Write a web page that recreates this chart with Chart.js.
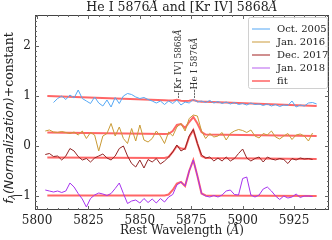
<!DOCTYPE html>
<html lang="en">
<head>
    <meta charset="UTF-8">
    <title>He I 5876 and [Kr IV] 5868</title>
    <script src="https://cdn.jsdelivr.net/npm/chart.js"></script>
    <style>
        html, body { margin: 0; padding: 0; background: #ffffff; }
        .chart-box { width: 332px; height: 240px; }
    </style>
</head>
<body>
    <div class="chart-box">
        <canvas id="specChart" width="332" height="240"></canvas>
    </div>

    <script>
        // rest wavelength grid of the spectra (Angstrom)
        const wave = [5804, 5806, 5808, 5810, 5812, 5814, 5816, 5818, 5820, 5822,
            5824, 5826, 5828, 5830, 5832, 5834, 5836, 5838, 5840, 5842,
            5844, 5846, 5848, 5850, 5852, 5854, 5856, 5858, 5860, 5862,
            5864, 5866, 5868, 5870, 5872, 5874, 5876, 5878, 5880, 5882,
            5884, 5886, 5888, 5890, 5892, 5894, 5896, 5898, 5900, 5902,
            5904, 5906, 5908, 5910, 5912, 5914, 5916, 5918, 5920, 5922,
            5924, 5926, 5928, 5930, 5932, 5934, 5936, 5938];

        const oct2005 = [null, null, 0.87, 0.95, 1.0, 0.93, 1.02, 0.96, 1.12, 0.95,
            0.9, 0.85, 0.98, 0.86, 0.8, 0.92, 0.78, 0.97, 0.85, 1.0,
            1.05, 1.03, 0.98, 0.95, 0.97, 0.93, 0.9, 0.86, 0.9, 0.83,
            0.9, 0.85, 0.92, 0.82, 0.88, 0.86, 0.93, 0.88, 0.9, 0.87,
            0.91, 0.86, 0.89, 0.85, 0.88, 0.84, 0.87, 0.83, 0.85, 0.82,
            0.86, 0.83, 0.84, 0.81, 0.84, 0.8, 0.83, 0.79, 0.82, 0.81,
            0.9, 0.78, 0.82, 0.8, 0.86, 0.87, 0.84, null];

        const jan2016 = [0.30, 0.32, 0.28, 0.27, 0.29, 0.27, 0.25, 0.28, 0.22, 0.3,
            0.15, 0.27, 0.22, -0.1, 0.2, 0.25, 0.45, 0.2, 0.38, 0.15,
            0.05, 0.35, 0.1, 0.42, 0.12, 0.08, 0.15, 0.3, 0.2, 0.05,
            0.28, 0.2, 0.38, 0.45, 0.3, 0.55, 0.62, 0.6, 0.3, 0.15,
            0.25, 0.18, 0.2, 0.27, 0.12, 0.25, 0.3, 0.33, 0.31, 0.27,
            0.32, 0.2, 0.16, 0.25, 0.22, 0.3, 0.18, 0.14, 0.2, 0.25,
            0.13, 0.22, 0.24, 0.2, 0.1, 0.26, null, null];

        const dec2017 = [-0.17, -0.15, -0.21, -0.2, -0.28, -0.2, -0.05, -0.1, -0.21, -0.28,
            -0.25, -0.32, -0.24, -0.2, -0.16, -0.24, -0.28, -0.2, -0.05, 0.0,
            -0.2, -0.35, -0.42, -0.28, -0.44, -0.27, -0.32, -0.25, -0.36, -0.3,
            -0.22, -0.12, 0.02, -0.1, -0.05, 0.2, 0.33, 0.05, -0.18, -0.24,
            -0.22, -0.3, -0.24, -0.3, -0.22, -0.3, -0.25, -0.15, -0.06, -0.24,
            -0.3, -0.25, -0.22, -0.32, -0.22, -0.26, -0.28, -0.25, -0.27, -0.35,
            -0.25, -0.28, -0.24, -0.26, -0.25, -0.27, null, null];

        const jan2018 = [-0.88, -0.9, -0.92, -0.9, -0.93, -0.9, -0.74, -0.82, -0.95, -1.06,
            -1.22, -1.05, -0.98, -0.94, -0.96, -0.99, -0.95, -0.85, -0.74, -0.95,
            -1.15, -1.1, -1.08, -1.14, -1.05, -1.13, -1.06, -1.14, -1.05, -1.12,
            -1.02, -0.97, -0.78, -0.72, -0.8, -0.5, -0.28, -0.6, -0.95, -1.0,
            -1.02, -0.99, -1.02, -0.98, -0.9, -0.88, -0.97, -0.98, -0.65, -0.62,
            -0.98, -1.02, -0.98, -0.86, -0.82, -0.9, -1.0, -1.07, -1.0, -1.04,
            -1.02, -0.96, -1.03, -1.0, -1.0, -1.01, null, null];

        // fitted profiles (continuum + two lines)
        const fitWave = [5805, 5862, 5864, 5866, 5868, 5870, 5872, 5874, 5876, 5878, 5880, 5882, 5936];
        const fitOct2005 = [1.0, 0.913, 0.91, 0.91, 0.925, 0.905, 0.898, 0.905, 0.92, 0.895, 0.886, 0.883, 0.8];
        const fitJan2016 = [0.27, 0.24, 0.245, 0.3, 0.42, 0.44, 0.36, 0.48, 0.58, 0.45, 0.28, 0.23, 0.2];
        const fitDec2017 = [-0.23, -0.24, -0.22, -0.12, 0.0, -0.05, -0.06, 0.18, 0.32, 0.05, -0.2, -0.24, -0.26];
        const fitJan2018 = [-0.99, -0.99, -0.97, -0.88, -0.75, -0.72, -0.8, -0.5, -0.28, -0.6, -0.95, -0.99, -1.0];

        const epochs = ['Oct. 2005', 'Jan. 2016', 'Dec. 2017', 'Jan. 2018'];
        const xTicks = [5800, 5825, 5850, 5875, 5900, 5925];
        const yTicks = [-1, 0, 1, 2];

        const serif = '"DejaVu Serif", serif';
        const sans = '"DejaVu Sans", sans-serif';

        function pts(xs, ys) {
            return xs.map((x, i) => ({ x: x, y: ys[i] }));
        }

        const specColors = ['#55a8f5', '#c99a35', '#922424', '#a633ee'];
        const legendColors = ['#8cc4f8', '#dcbc7c', '#c06a6a', '#cf94f4', '#ff8a8a'];
        const fitColor = 'rgba(255, 20, 20, 0.65)';

        const datasets = [];
        [oct2005, jan2016, dec2017, jan2018].forEach((s, i) => {
            datasets.push({
                label: epochs[i],
                data: pts(wave, s),
                borderColor: specColors[i],
                borderWidth: 1,
                pointRadius: 0,
                spanGaps: false
            });
        });
        [fitOct2005, fitJan2016, fitDec2017, fitJan2018].forEach((s, i) => {
            datasets.push({
                label: i === 0 ? 'fit' : '',
                data: pts(fitWave, s),
                borderColor: fitColor,
                borderWidth: 2,
                pointRadius: 0
            });
        });

        // spines, inward ticks, labels, legend and line markers
        const decorPlugin = {
            id: 'decor',
            afterDraw(chart) {
                const ctx = chart.ctx;
                const a = chart.chartArea;
                const xs = chart.scales.x, ys = chart.scales.y;
                ctx.save();

                ctx.strokeStyle = '#444';
                ctx.lineWidth = 1;
                ctx.strokeRect(a.left + 0.5, a.top + 0.5, a.right - a.left - 1, a.bottom - a.top - 1);

                ctx.strokeStyle = '#666';
                ctx.beginPath();
                for (let v = 5800; v <= 5940; v += 5) {
                    const px = Math.round(xs.getPixelForValue(v)) + 0.5;
                    const len = (v % 25 === 0) ? 4 : 2;
                    ctx.moveTo(px, a.bottom); ctx.lineTo(px, a.bottom - len);
                    ctx.moveTo(px, a.top); ctx.lineTo(px, a.top + len);
                }
                for (let k = -12; k <= 26; k++) {
                    const v = k / 10;
                    const py = Math.round(ys.getPixelForValue(v)) + 0.5;
                    const len = (k % 10 === 0) ? 4 : 2;
                    ctx.moveTo(a.left, py); ctx.lineTo(a.left + len, py);
                    ctx.moveTo(a.right, py); ctx.lineTo(a.right - len, py);
                }
                ctx.stroke();

                // title
                const cx = (a.left + a.right) / 2;
                drawRuns(ctx, [['He I 5876', '12.5px ' + serif], ['Å', 'italic 12.5px ' + serif],
                    [' and [Kr IV] 5868', '12.5px ' + serif], ['Å', 'italic 12.5px ' + serif]], cx, 8);
                // x axis label
                drawRuns(ctx, [['Rest Wavelength (', '12px ' + serif], ['Å', 'italic 12px ' + serif],
                    [')', '12px ' + serif]], cx, 231);

                // y axis label
                ctx.save();
                ctx.translate(10, 118);
                ctx.rotate(-Math.PI / 2);
                const parts = [['f', 'italic 12.5px ' + sans, 0], ['λ', 'italic 9px ' + sans, 3],
                    ['(Normalization)', 'italic 12.5px ' + sans, 0], ['+constant', '12.5px ' + serif, 0]];
                let total = 0;
                parts.forEach(p => { ctx.font = p[1]; total += ctx.measureText(p[0]).width; });
                let pos = -total / 2;
                ctx.fillStyle = '#222';
                ctx.textBaseline = 'middle';
                ctx.textAlign = 'left';
                parts.forEach(p => { ctx.font = p[1]; ctx.fillText(p[0], pos, p[2]); pos += ctx.measureText(p[0]).width; });
                ctx.restore();

                // line identifications
                [[5868, '--[Kr IV] 5868'], [5876, '---He I 5876']].forEach(m => {
                    ctx.save();
                    ctx.translate(xs.getPixelForValue(m[0]) + 1.5, ys.getPixelForValue(0.95));
                    ctx.rotate(-Math.PI / 2);
                    ctx.fillStyle = '#333';
                    ctx.textBaseline = 'middle';
                    ctx.textAlign = 'left';
                    ctx.font = '9px ' + serif;
                    ctx.fillText(m[1], 0, 0);
                    const w = ctx.measureText(m[1]).width;
                    ctx.font = 'italic 9px ' + serif;
                    ctx.fillText('Å', w, 0);
                    ctx.restore();
                });

                // legend
                const lx = 248, ly = 17, lw = 79, lh = 71;
                ctx.fillStyle = 'rgba(255,255,255,0.85)';
                ctx.strokeStyle = '#d0d0d0';
                ctx.beginPath();
                ctx.roundRect(lx + 0.5, ly + 0.5, lw, lh, 2);
                ctx.fill();
                ctx.stroke();
                const names = epochs.concat(['fit']);
                ctx.font = '10px ' + serif;
                ctx.textBaseline = 'middle';
                ctx.textAlign = 'left';
                names.forEach((n, i) => {
                    const yy = ly + 12 + i * 13;
                    ctx.strokeStyle = legendColors[i];
                    ctx.lineWidth = i === 4 ? 2 : 1.5;
                    ctx.beginPath();
                    ctx.moveTo(lx + 4, yy); ctx.lineTo(lx + 22, yy);
                    ctx.stroke();
                    ctx.fillStyle = '#222';
                    ctx.fillText(n, lx + 29, yy);
                });

                ctx.restore();
            }
        };

        function drawRuns(ctx, runs, cx, cy) {
            let total = 0;
            runs.forEach(r => { ctx.font = r[1]; total += ctx.measureText(r[0]).width; });
            let x = cx - total / 2;
            ctx.fillStyle = '#222';
            ctx.textBaseline = 'middle';
            ctx.textAlign = 'left';
            runs.forEach(r => { ctx.font = r[1]; ctx.fillText(r[0], x, cy); x += ctx.measureText(r[0]).width; });
        }

        const ctx = document.getElementById('specChart').getContext('2d');
        new Chart(ctx, {
            type: 'line',
            data: { datasets: datasets },
            options: {
                responsive: false,
                animation: false,
                layout: { padding: { left: 0, top: 15, right: 3, bottom: 0 } },
                plugins: {
                    legend: { display: false },
                    tooltip: { enabled: false },
                    title: { display: false }
                },
                elements: { line: { tension: 0 } },
                scales: {
                    x: {
                        type: 'linear',
                        min: 5799,
                        max: 5942,
                        grid: { display: false, drawTicks: false },
                        border: { display: false },
                        afterBuildTicks: s => { s.ticks = xTicks.map(v => ({ value: v })); },
                        afterFit: s => { s.height = 30; },
                        ticks: {
                            padding: 4,
                            maxRotation: 0,
                            color: '#222',
                            font: { family: 'DejaVu Serif', size: 12 },
                            callback: v => String(v)
                        }
                    },
                    y: {
                        min: -1.28,
                        max: 2.62,
                        grid: { display: false, drawTicks: false },
                        border: { display: false },
                        afterBuildTicks: s => { s.ticks = yTicks.map(v => ({ value: v })); },
                        afterFit: s => { s.width = 35; },
                        ticks: {
                            padding: 4,
                            color: '#222',
                            font: { family: 'DejaVu Serif', size: 12 },
                            callback: v => (v < 0 ? '\u2212' + Math.abs(v) : String(v))
                        }
                    }
                }
            },
            plugins: [decorPlugin]
        });
    </script>
</body>
</html>
